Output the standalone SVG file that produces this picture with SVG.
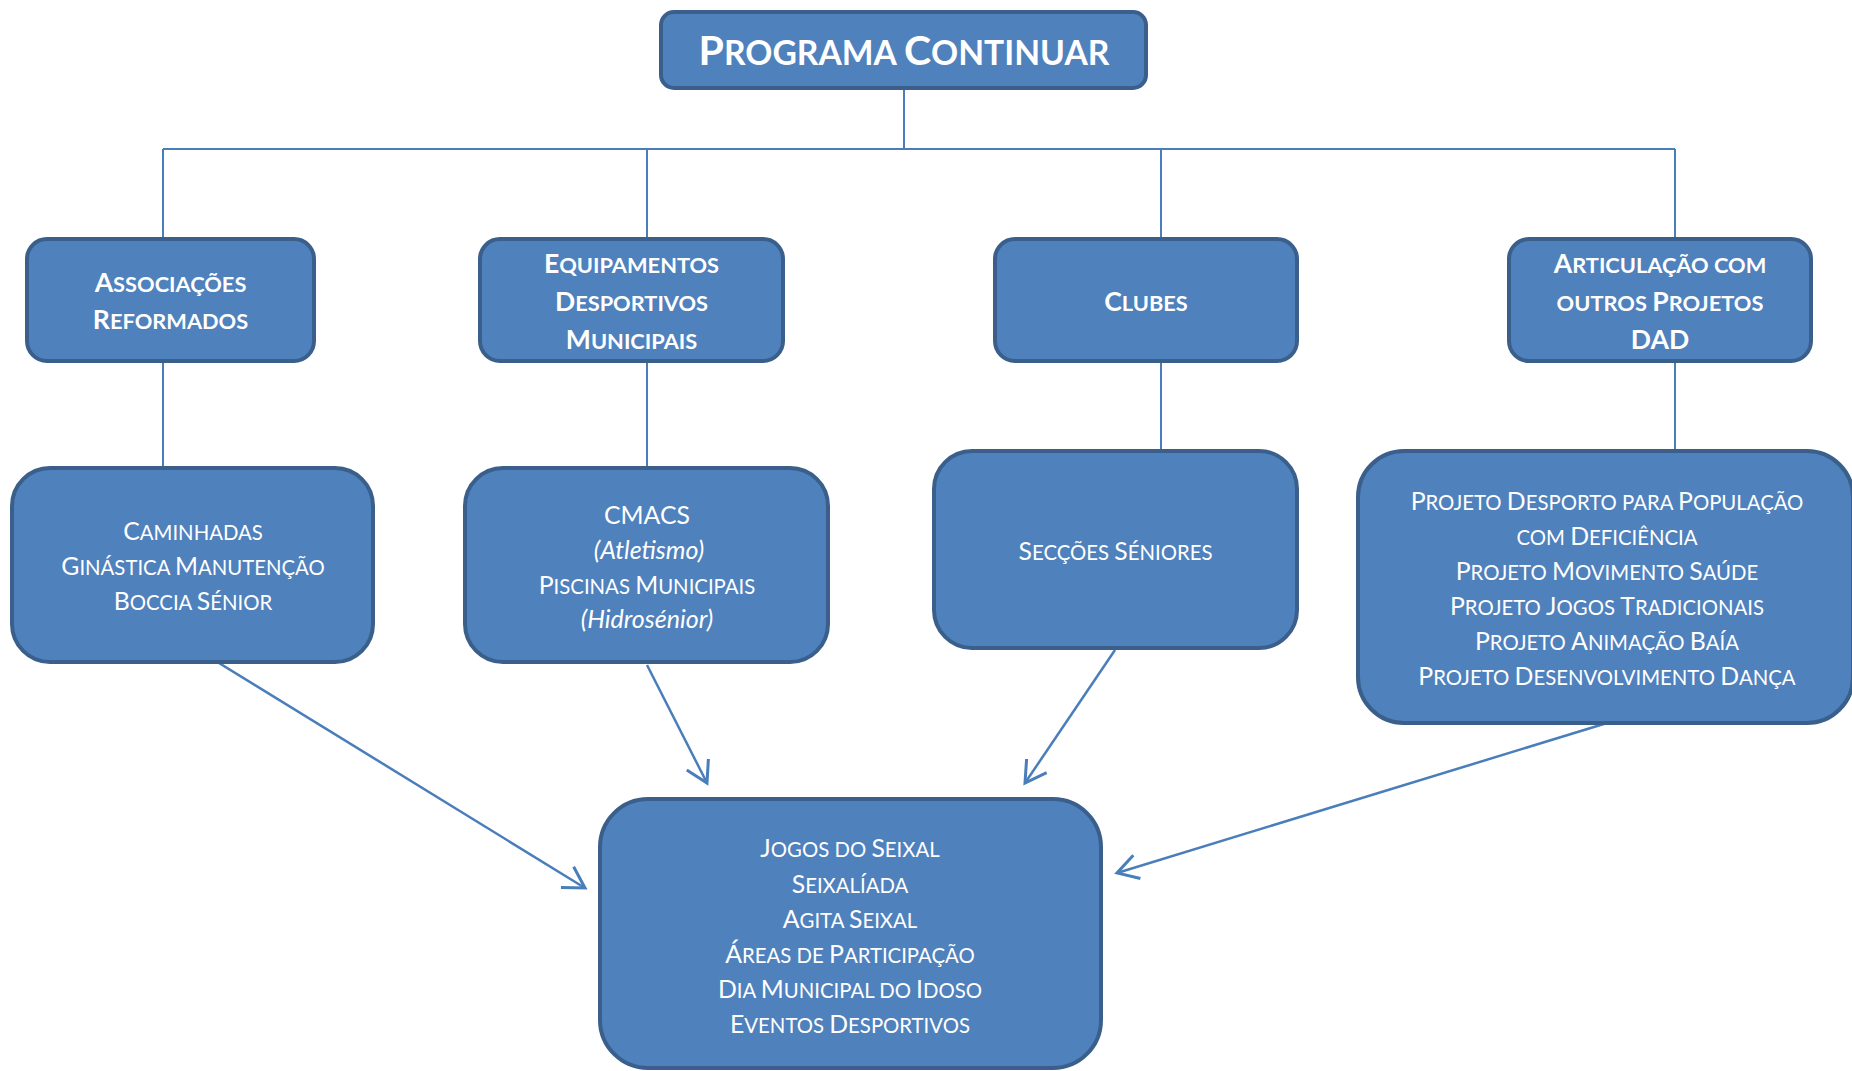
<svg xmlns="http://www.w3.org/2000/svg" width="1852" height="1071" viewBox="0 0 1852 1071">
<style>
.box{fill:#4F81BD;stroke:#3A5F8B;stroke-width:4}
.ln{fill:none;stroke:#4A7EBB;stroke-width:2}
.ar{fill:none;stroke:#4A7EBB;stroke-width:2.5;marker-end:url(#ah)}
text{fill:#FFFFFF;font-family:Lato,"Noto Sans","Liberation Sans",sans-serif;text-anchor:middle}
.b{font-weight:bold;font-size:26.6px}
.r{font-size:24.8px}
.ti{font-weight:bold;font-size:41px}
.it{font-style:italic;font-size:25px}
.s{font-size:0.82em}
</style>
<defs>
<marker id="ah" markerUnits="userSpaceOnUse" markerWidth="30" markerHeight="30" viewBox="-22 -13 26 26" refX="0" refY="0" orient="auto">
<path d="M-18,-10.5 L0,0 L-18,10.5" fill="none" stroke="#4A7EBB" stroke-width="2.6"/>
</marker>
</defs>
<g id="connectors">
<path class="ln" d="M904,90 V149 M163,149 H1675 M163,149 V239 M647,149 V239 M1161,149 V239 M1675,149 V239"/>
<path class="ln" d="M163,361 V468 M647,361 V468 M1161,361 V451 M1675,361 V451"/>
<line class="ar" x1="193" y1="647" x2="585" y2="888"/>
<line class="ar" x1="647" y1="665" x2="707" y2="783"/>
<line class="ar" x1="1115" y1="650" x2="1025" y2="783"/>
<line class="ar" x1="1607" y1="723" x2="1117" y2="873"/>
</g>
<g id="programa">
<rect class="box" x="661" y="12" width="485" height="76" rx="13"/>
<text class="ti" x="904" y="65">P<tspan class="s">ROGRAMA </tspan>C<tspan class="s">ONTINUAR</tspan></text>
</g>
<g id="associacoes">
<rect class="box" x="27" y="239" width="287" height="122" rx="20"/>
<text class="b" x="170.5" y="292">A<tspan class="s">SSOCIAÇÕES</tspan></text>
<text class="b" x="170.5" y="329">R<tspan class="s">EFORMADOS</tspan></text>
</g>
<g id="equipamentos">
<rect class="box" x="480" y="239" width="303" height="122" rx="20"/>
<text class="b" x="631.5" y="273">E<tspan class="s">QUIPAMENTOS</tspan></text>
<text class="b" x="631.5" y="311">D<tspan class="s">ESPORTIVOS</tspan></text>
<text class="b" x="631.5" y="349">M<tspan class="s">UNICIPAIS</tspan></text>
</g>
<g id="clubes">
<rect class="box" x="995" y="239" width="302" height="122" rx="20"/>
<text class="b" x="1146" y="311">C<tspan class="s">LUBES</tspan></text>
</g>
<g id="articulacao">
<rect class="box" x="1509" y="239" width="302" height="122" rx="20"/>
<text class="b" x="1660" y="273">A<tspan class="s">RTICULAÇÃO COM</tspan></text>
<text class="b" x="1660" y="311"><tspan class="s">OUTROS </tspan>P<tspan class="s">ROJETOS</tspan></text>
<text class="b" x="1660" y="349">DAD</text>
</g>
<g id="caminhadas">
<rect class="box" x="12" y="468" width="361" height="194" rx="38"/>
<text class="r" x="193" y="540">C<tspan class="s">AMINHADAS</tspan></text>
<text class="r" x="193" y="575">G<tspan class="s">INÁSTICA </tspan>M<tspan class="s">ANUTENÇÃO</tspan></text>
<text class="r" x="193" y="610">B<tspan class="s">OCCIA </tspan>S<tspan class="s">ÉNIOR</tspan></text>
</g>
<g id="cmacs">
<rect class="box" x="465" y="468" width="363" height="194" rx="38"/>
<text class="r" x="647" y="524">CMACS</text>
<text class="it" x="649" y="559">(Atletismo)</text>
<text class="r" x="647" y="594">P<tspan class="s">ISCINAS </tspan>M<tspan class="s">UNICIPAIS</tspan></text>
<text class="it" x="647" y="628">(Hidrosénior)</text>
</g>
<g id="seccoes">
<rect class="box" x="934" y="451" width="363" height="197" rx="38"/>
<text class="r" x="1115.5" y="560">S<tspan class="s">ECÇÕES </tspan>S<tspan class="s">ÉNIORES</tspan></text>
</g>
<g id="projetos">
<rect class="box" x="1358" y="451" width="495" height="272" rx="46"/>
<text class="r" x="1607" y="510">P<tspan class="s">ROJETO </tspan>D<tspan class="s">ESPORTO PARA </tspan>P<tspan class="s">OPULAÇÃO</tspan></text>
<text class="r" x="1607" y="545"><tspan class="s">COM </tspan>D<tspan class="s">EFICIÊNCIA</tspan></text>
<text class="r" x="1607" y="580">P<tspan class="s">ROJETO </tspan>M<tspan class="s">OVIMENTO </tspan>S<tspan class="s">AÚDE</tspan></text>
<text class="r" x="1607" y="615">P<tspan class="s">ROJETO </tspan>J<tspan class="s">OGOS </tspan>T<tspan class="s">RADICIONAIS</tspan></text>
<text class="r" x="1607" y="650">P<tspan class="s">ROJETO </tspan>A<tspan class="s">NIMAÇÃO </tspan>B<tspan class="s">AÍA</tspan></text>
<text class="r" x="1607" y="685">P<tspan class="s">ROJETO </tspan>D<tspan class="s">ESENVOLVIMENTO </tspan>D<tspan class="s">ANÇA</tspan></text>
</g>
<g id="eventos">
<rect class="box" x="600" y="799" width="501" height="269" rx="48"/>
<text class="r" x="850" y="857">J<tspan class="s">OGOS DO </tspan>S<tspan class="s">EIXAL</tspan></text>
<text class="r" x="850" y="893">S<tspan class="s">EIXALÍADA</tspan></text>
<text class="r" x="850" y="928">A<tspan class="s">GITA </tspan>S<tspan class="s">EIXAL</tspan></text>
<text class="r" x="850" y="963">Á<tspan class="s">REAS DE </tspan>P<tspan class="s">ARTICIPAÇÃO</tspan></text>
<text class="r" x="850" y="998">D<tspan class="s">IA </tspan>M<tspan class="s">UNICIPAL DO </tspan>I<tspan class="s">DOSO</tspan></text>
<text class="r" x="850" y="1033">E<tspan class="s">VENTOS </tspan>D<tspan class="s">ESPORTIVOS</tspan></text>
</g>
</svg>
